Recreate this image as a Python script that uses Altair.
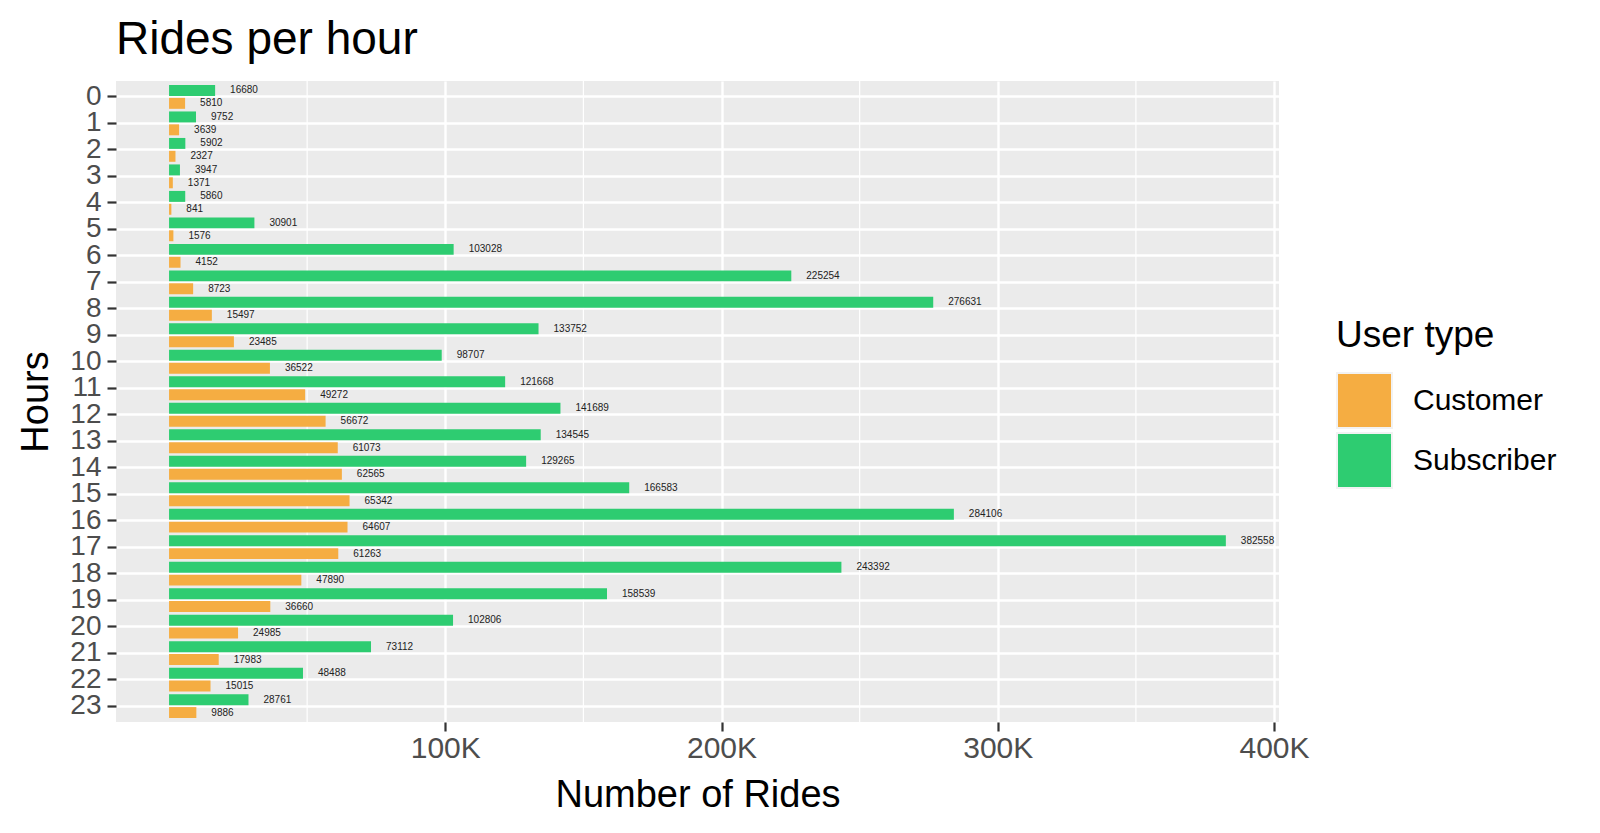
import pandas as pd
import altair as alt

hours = list(range(24))
subscriber = [16680, 9752, 5902, 3947, 5860, 30901, 103028, 225254, 276631, 133752,
              98707, 121668, 141689, 134545, 129265, 166583, 284106, 382558, 243392,
              158539, 102806, 73112, 48488, 28761]
customer = [5810, 3639, 2327, 1371, 841, 1576, 4152, 8723, 15497, 23485,
            36522, 49272, 56672, 61073, 62565, 65342, 64607, 61263, 47890,
            36660, 24985, 17983, 15015, 9886]
user_types = ["Customer", "Subscriber"]
user_colors = ["#F5AD42", "#2ECC71"]
major_breaks = [100000, 200000, 300000, 400000]
minor_breaks = [50000, 150000, 250000, 350000]

rides = pd.DataFrame({
    "hour": hours * 2,
    "user_type": ["Subscriber"] * 24 + ["Customer"] * 24,
    "rides": subscriber + customer,
})

FONT = "Liberation Sans"

x_enc = alt.X(
    "rides:Q",
    scale=alt.Scale(domain=[-19200, 401800], nice=False, zero=False),
    axis=alt.Axis(
        values=major_breaks,
        labelExpr="datum.value / 1000 + 'K'",
        title="Number of Rides",
        grid=True,
    ),
)
y_enc = alt.Y(
    "hour:O",
    scale=alt.Scale(paddingInner=0.1, paddingOuter=0.15),
    axis=alt.Axis(title="Hours", grid=True, bandPosition=0.5),
)
y_off = alt.YOffset(
    "user_type:N",
    scale=alt.Scale(domain=["Subscriber", "Customer"], paddingInner=0.15, paddingOuter=0),
)

# thinner minor gridlines halfway between the labelled breaks
minor = alt.Chart(pd.DataFrame({"b": minor_breaks})).mark_rule(
    color="white", strokeWidth=1.2
).encode(x="b:Q")

bars = alt.Chart(rides).mark_bar().encode(
    x=x_enc,
    y=y_enc,
    yOffset=y_off,
    color=alt.Color(
        "user_type:N",
        scale=alt.Scale(domain=user_types, range=user_colors),
        legend=alt.Legend(
            title="User type",
            orient="none",
            legendX=1220,
            legendY=237,
            symbolType="square",
            symbolSize=3025,
            symbolStrokeColor="#F2F2F2",
            symbolStrokeWidth=2,
            symbolOpacity=1,
            titleFontSize=37,
            titleFontWeight="normal",
            titleColor="black",
            titlePadding=17,
            labelFontSize=30,
            labelColor="black",
            labelOffset=20,
            rowPadding=-3,
        ),
    ),
)

labels = alt.Chart(rides).mark_text(
    align="left", baseline="middle", dx=15, fontSize=10, font=FONT, color="#222222"
).encode(
    x="rides:Q",
    y="hour:O",
    yOffset=y_off,
    text="rides:Q",
)

chart = alt.layer(minor, bars, labels).properties(
    width=1163,
    height=641,
    padding={"left": 108, "top": 73, "right": 313, "bottom": 95},
    autosize=alt.AutoSizeParams(type="none"),
    title=alt.Title(
        "Rides per hour", anchor="start", frame="group", fontSize=46,
        fontWeight="normal", color="black", font=FONT, offset=16,
    ),
).configure_view(
    fill="#EBEBEB", stroke=None
).configure_axis(
    labelFont=FONT,
    titleFont=FONT,
    labelFontSize=30,
    labelColor="#4D4D4D",
    titleFontSize=38,
    titleFontWeight="normal",
    titleColor="black",
    tickColor="#333333",
    tickSize=9,
    tickWidth=2.2,
    labelPadding=2,
    domain=False,
    gridColor="white",
    gridWidth=2.4,
).configure_axisY(
    labelFontSize=28,
    labelPadding=6,
    titlePadding=14,
).configure_axisX(
    titlePadding=13,
).configure_legend(
    labelFont=FONT,
    titleFont=FONT,
)

chart.save("out.html", embed_options={"renderer": "svg", "actions": False})
